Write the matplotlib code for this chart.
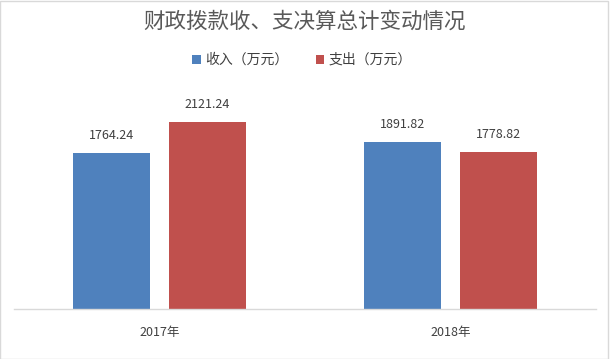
import matplotlib
matplotlib.use("Agg")
import matplotlib.pyplot as plt
from matplotlib.patches import Rectangle
import numpy as np

plt.rcParams['font.family'] = ['Noto Sans CJK SC', 'DejaVu Sans']

title = "财政拨款收、支决算总计变动情况"
categories = ["2017年", "2018年"]
series_names = ["收入（万元）", "支出（万元）"]
income = [1764.24, 1891.82]
expense = [2121.24, 1778.82]
colors = ["#4F81BD", "#C0504D"]

fig = plt.figure(figsize=(6.12, 3.59), dpi=100)
ax = fig.add_axes([14/612, 1-309/359, 582/612, (309-88.5)/359])

x = np.arange(len(categories))
w = 0.265
off = w/2 + 0.031
b1 = ax.bar(x - off, income, w, color=colors[0], label=series_names[0])
b2 = ax.bar(x + off, expense, w, color=colors[1], label=series_names[1])
for bars, vals in ((b1, income), (b2, expense)):
    for r, v in zip(bars, vals):
        ax.annotate(f"{v:.2f}", (r.get_x() + r.get_width()/2, v), xytext=(0, 8),
                    textcoords="offset points", ha="center", va="bottom",
                    fontsize=9, color="#404040")

ax.set_xlim(-0.5, 1.5)
ax.set_ylim(0, 2500)
ax.set_xticks(x)
ax.set_xticklabels(categories, fontsize=9, color="#404040")
ax.tick_params(axis='x', length=0, pad=12)
ax.set_yticks([])
for s in ("top", "right", "left"):
    ax.spines[s].set_visible(False)
ax.spines["bottom"].set_color("#D9D9D9")
ax.spines["bottom"].set_linewidth(1)

fig.text(305/612, 1-22/359, title, ha="center", va="center", fontsize=15.5, color="#595959")
fig.legend(handles=[b1, b2], labels=series_names, loc="center", bbox_to_anchor=(302/612, 1-60/359),
           ncol=2, frameon=False, fontsize=10, handlelength=0.6, handleheight=0.6,
           handletextpad=0.3, columnspacing=2.0, labelcolor="#404040")

fig.patches.append(Rectangle((0, 0.5/359), 608/612, 358/359, transform=fig.transFigure,
                             fill=False, edgecolor="#D9D9D9", linewidth=1))

fig.savefig("out.png", dpi=100)
